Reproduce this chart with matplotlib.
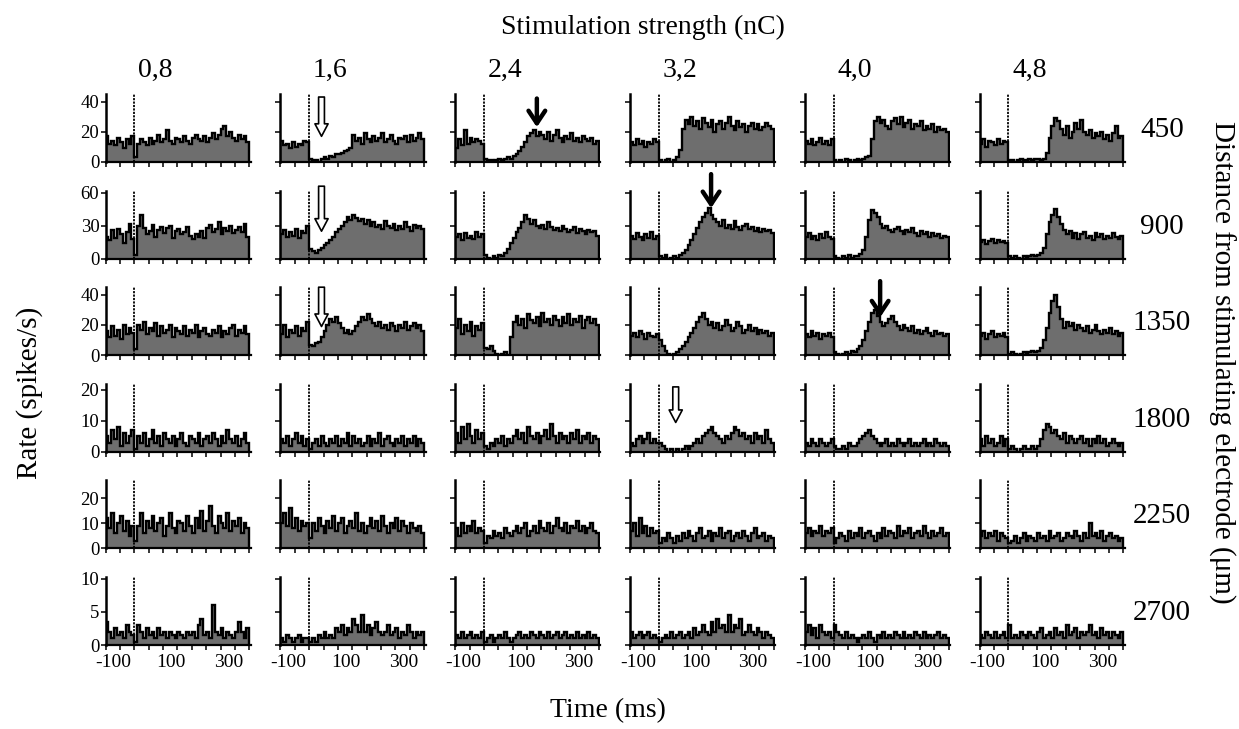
import numpy as np
import matplotlib
matplotlib.use('Agg')
import matplotlib.pyplot as plt
from matplotlib.transforms import ScaledTranslation

plt.rcParams['font.family'] = ['Liberation Serif', 'DejaVu Serif']

STRENGTHS = ['0,8', '1,6', '2,4', '3,2', '4,0', '4,8']
DISTANCES = ['450', '900', '1350', '1800', '2250', '2700']
Y_LIMITS = [45, 62, 45, 22, 27, 10.3]
Y_TICKS = [[0, 20, 40], [0, 30, 60], [0, 20, 40], [0, 10, 20], [0, 10, 20], [0, 5, 10]]
X_MAJOR = [-100, 100, 300]
X_MAJOR_LABELS = ['-100', '100', '300']
X_MINOR = list(range(-100, 401, 50))
T_START, T_END = -100, 400

# Firing-rate histograms (spikes/s), 10 ms bins from -100 to 400 ms, one list per stimulation strength
RATES_450 = [
    [17,12,14,11,16,13,9,15,12,17, 3,12,15,13,11,16,12,14,18,13, 15,21,14,12,16,15,13,17,14,12, 16,18,15,14,17,13,16,19,15,18, 22,24,17,20,16,14,18,15,17,13],
    [14,11,12,9,13,10,12,11,14,13, 2,1,1,0,2,3,2,4,3,5, 5,6,7,8,9,18,14,16,12,19, 15,13,17,14,16,19,13,15,18,14, 12,16,15,17,13,18,14,16,19,15],
    [9,15,11,21,12,16,13,15,14,12, 2,1,1,0,1,2,1,2,3,2, 4,5,7,10,13,17,19,21,17,20, 18,15,20,14,18,21,16,13,17,15, 19,14,16,13,17,15,14,16,12,14],
    [13,11,15,12,14,10,13,12,15,13, 1,0,1,2,0,1,3,8,22,28, 25,30,24,27,22,29,26,23,28,20, 25,27,22,26,30,24,21,27,23,25, 20,24,26,22,25,21,23,26,24,22],
    [14,12,15,11,13,16,12,14,11,15, 1,0,1,0,2,1,0,1,2,1, 2,3,4,15,27,30,26,28,24,22, 27,29,25,30,23,26,28,22,25,24, 27,21,24,22,25,20,23,21,22,20],
    [12,15,10,14,13,11,15,12,14,13, 1,1,0,1,2,1,1,2,1,2, 2,1,2,6,16,24,29,27,22,18, 24,16,20,26,22,28,20,18,21,16, 19,17,20,15,18,14,19,24,16,17],
]
RATES_900 = [
    [20,17,26,19,27,22,14,24,32,18, 3,30,40,28,22,25,31,20,26,29, 23,28,30,19,25,27,22,24,29,21, 18,22,20,25,19,28,31,24,27,33, 22,28,25,30,23,26,29,24,32,20],
    [22,26,20,24,21,27,19,25,23,30, 9,7,5,8,10,12,14,17,20,24, 27,30,33,38,35,40,37,34,36,32, 35,30,33,29,31,27,34,30,28,32, 26,30,27,33,29,25,31,28,30,27],
    [20,22,17,23,19,21,18,24,20,22, 3,1,0,2,1,3,2,5,9,14, 19,24,28,33,40,36,32,35,30,28, 31,27,33,29,26,28,25,30,27,24, 26,29,23,27,25,22,26,24,25,21],
    [21,18,23,20,17,22,19,24,18,21, 2,1,3,0,1,2,1,3,5,8, 12,17,22,28,33,38,42,46,40,36, 33,30,35,28,31,27,34,29,26,30, 32,27,29,25,28,24,27,25,26,23],
    [20,23,18,21,17,22,19,24,20,18, 2,1,0,2,1,3,1,2,2,4, 8,20,35,44,42,38,32,28,30,26, 24,27,29,25,22,26,24,28,23,21, 25,22,24,20,23,21,22,19,21,20],
    [15,17,13,16,18,14,17,15,16,14, 2,1,2,1,0,2,1,2,3,2, 3,5,10,22,33,40,45,38,32,26, 22,25,19,23,18,22,24,19,21,17, 23,20,22,18,21,19,23,20,18,21],
]
RATES_1350 = [
    [16,12,19,13,17,11,20,14,18,15, 4,20,17,22,14,18,16,21,13,19, 15,17,20,12,18,16,14,19,13,17, 15,20,12,16,18,14,13,17,15,19, 12,16,14,18,20,13,17,15,19,14],
    [14,20,12,17,15,19,13,18,16,22, 7,6,8,9,12,16,20,24,22,25, 21,18,15,17,14,16,19,22,25,23, 27,24,21,19,22,18,20,17,21,19, 16,20,18,22,17,19,21,18,20,16],
    [18,24,14,20,16,22,13,19,17,21, 5,4,6,3,1,0,1,2,0,12, 22,26,20,24,18,27,23,21,25,19, 28,22,24,20,26,23,19,25,21,27, 20,24,22,26,18,23,25,21,24,20],
    [13,15,12,16,14,11,15,13,12,14, 10,6,3,1,0,1,2,4,6,9, 12,15,18,22,25,28,24,20,22,18, 21,17,19,23,20,16,18,22,19,15, 17,20,16,18,14,17,15,16,13,15],
    [14,12,16,13,15,11,14,13,15,12, 2,1,0,1,2,1,3,2,4,6, 10,16,22,28,30,26,22,19,21,24, 26,22,19,17,20,18,16,19,15,17, 14,16,18,15,13,16,14,15,13,14],
    [13,15,11,14,16,12,14,13,15,12, 1,2,1,0,1,2,1,2,3,2, 3,5,10,18,28,36,40,32,24,18, 22,19,21,17,20,18,16,19,15,17, 20,16,14,17,15,18,14,16,13,15],
]
RATES_1800 = [
    [5,3,7,4,8,2,6,3,5,7, 1,5,3,6,2,4,7,3,5,2, 6,4,3,5,2,4,6,3,2,5, 4,3,6,2,4,5,3,6,4,2, 5,3,7,4,3,5,2,4,6,3],
    [4,3,5,2,4,6,3,5,2,4, 1,3,4,2,5,3,2,4,3,5, 2,4,3,6,2,5,3,4,2,3, 5,2,4,3,6,2,4,5,3,2, 4,3,5,2,4,3,5,2,4,3],
    [6,3,8,4,9,5,3,7,4,6, 2,1,3,2,4,3,5,2,4,3, 5,7,4,6,3,8,5,4,6,3, 5,7,4,9,5,3,6,4,5,3, 6,4,7,3,5,4,6,3,5,4],
    [3,2,4,5,3,4,6,3,4,3, 3,2,1,0,1,0,1,0,1,2, 1,2,3,4,3,5,6,7,8,6, 5,4,3,5,4,6,8,7,5,6, 4,5,3,6,4,5,3,7,4,3],
    [3,2,4,3,2,4,3,2,3,4, 2,1,1,2,1,3,2,2,3,4, 5,6,7,5,4,3,2,3,4,2, 3,2,4,3,2,3,4,2,3,2, 3,4,2,3,2,4,3,2,3,2],
    [4,2,5,3,4,2,3,5,2,4, 1,2,1,0,1,2,1,1,2,1, 2,4,7,9,8,6,7,5,4,6, 3,5,4,3,4,5,3,4,2,4, 3,5,3,4,2,3,4,3,2,3],
]
RATES_2250 = [
    [12,8,14,6,10,13,7,11,5,9, 3,9,14,6,11,8,13,7,10,12, 5,9,14,8,6,11,10,7,13,9, 6,12,8,15,7,11,17,9,6,13, 10,8,14,7,11,9,12,6,10,8],
    [10,14,9,16,8,12,7,11,9,10, 4,10,7,12,9,6,11,8,13,7, 10,12,6,9,11,8,14,7,10,6, 9,12,8,11,7,13,9,6,10,8, 12,7,11,9,6,10,8,7,9,6],
    [8,5,10,6,9,7,11,6,8,7, 2,5,4,7,5,6,4,8,6,5, 7,9,6,8,10,5,7,9,6,11, 8,7,10,6,9,12,8,7,10,6, 9,8,11,7,9,6,8,10,7,6],
    [7,10,5,12,6,9,5,8,6,7, 2,4,3,6,4,2,5,3,6,4, 7,5,3,6,8,4,5,7,3,6, 5,8,4,6,7,3,5,6,4,7, 5,3,6,8,4,5,6,3,5,4],
    [6,8,5,7,6,9,5,7,6,8, 2,4,6,5,3,7,4,6,5,8, 4,6,7,5,3,6,4,8,5,7, 6,4,9,5,7,6,8,4,6,7, 5,9,6,4,7,5,6,8,5,6],
    [5,7,4,6,5,7,3,6,5,4, 2,3,5,2,4,6,3,5,4,3, 6,4,5,3,7,4,5,6,3,4, 6,5,4,7,5,3,6,4,10,5, 6,4,7,3,5,6,4,5,3,4],
]
RATES_2700 = [
    [3.5,2,1,2.5,1.5,2,1,3,2,1.5, 0.5,3,2,1,2.5,1.5,2,1,2.5,1.5, 2,1,2,1.5,1,2,1.5,1,2,1.5, 2,1,3,4,1.5,2,1,6,2,1.5, 2.5,1,2,1.5,1,2,3.5,2,1,2.5],
    [1,0.5,1.5,1,0.5,1,1.5,0.5,1,1, 0.5,1,0.5,1.5,1,2,1,1.5,1,2.5, 2,3,1.5,2.5,2,4,3,2,4.5,2, 3,1.5,2.5,3.5,2,1.5,2,3,1.5,2, 2.5,1,2,1.5,3,2,1,2,1.5,2],
    [1.5,1,2,1,1.5,2,1,1.5,1,2, 0.5,1,1.5,0.5,1,1.5,1,2,1,0.5, 1,1.5,2,1,1.5,1,2,1.5,1,2, 1.5,1,2,1,1.5,2,1,1.5,2,1, 1.5,1,2,1,1.5,1,2,1,1.5,1],
    [2,1,1.5,2,1,1.5,2,1,1.5,1, 0.5,1,1.5,1,2,1,1.5,2,1,1.5, 2,1,2.5,1.5,2,3,2,1.5,3.5,2, 4,2.5,3,2,4.5,2,3,2.5,4,1.5, 2,3,2,1.5,2.5,2,1,2,1.5,1],
    [2,3,1.5,2.5,1,3,2,1.5,2,1, 3,2,1.5,1,2,1,1.5,1,0.5,1, 1.5,1,2,1,0.5,1.5,1,2,1,1.5, 1,2,1.5,1,2,1,1.5,1,2,1.5, 1,2,1,1.5,1,1.5,2,1,1.5,1],
    [1.5,1,2,1.5,1,2,1,1.5,2,1, 3,1,1.5,1,2,1.5,1,2,1.5,1, 2,2.5,1,1.5,2,1,2.5,1.5,2,1, 3,1.5,2,2.5,1,2,1.5,2,3,1.5, 2,1,2.5,1.5,2,1,2,1.5,1,2],
]
ROWS = [RATES_450, RATES_900, RATES_1350, RATES_1800, RATES_2250, RATES_2700]

# Arrows marking response onset / peak
ARROW_ROW = [0, 1, 2, 0, 1, 2, 3]
ARROW_COL = [1, 1, 1, 2, 3, 4, 3]
ARROW_T = [43, 43, 43, 184, 182, 162, 59]
ARROW_TIP = [17, 25, 19, 23, 46, 25, 9.5]
ARROW_TAIL = [43, 66, 45, 42, 77, 49, 21]
ARROW_FILLED = [False, False, False, True, True, True, False]

GRAY = '#6e6e6e'
W, H = 1239, 729
fig = plt.figure(figsize=(W / 100, H / 100), dpi=100)

col_left, col_step, ax_w = 105.6, 174.8, 145.2
row_base = [162, 258.6, 355.2, 451.8, 548.4, 645]
ax_h = 68

label_shift = ScaledTranslation(8 / 100, 0, fig.dpi_scale_trans)
axes = {}
for r in range(6):
    for c in range(6):
        l = col_left + c * col_step
        ax = fig.add_axes([l / W, 1 - row_base[r] / H, ax_w / W, ax_h / H])
        axes[(r, c)] = ax
        vals = np.asarray(ROWS[r][c], dtype=float)
        edges = np.linspace(T_START, T_END, len(vals) + 1)
        ax.stairs(vals, edges, fill=True, color=GRAY, lw=0)
        ax.stairs(vals, edges, color='black', lw=1.7)
        ax.axvline(0, color='black', lw=1.3, ls=(0, (1.2, 0.7)))
        ax.set_xlim(-100, 405)
        ax.set_ylim(0, Y_LIMITS[r])
        for s in ['top', 'right']:
            ax.spines[s].set_visible(False)
        ax.spines['left'].set_linewidth(1.8)
        ax.spines['bottom'].set_linewidth(1.6)
        ax.set_xticks(X_MAJOR)
        ax.set_xticks(X_MINOR, minor=True)
        ax.tick_params(axis='x', which='both', direction='out', length=3.5, width=1.1, pad=3)
        ax.tick_params(axis='y', which='both', direction='out', length=3.5, width=1.1, pad=1)
        ax.set_yticks(Y_TICKS[r])
        if r == 5:
            ax.set_xticklabels(X_MAJOR_LABELS, fontsize=14)
            for lab in ax.get_xticklabels():
                lab.set_transform(lab.get_transform() + label_shift)
        else:
            ax.set_xticklabels([])
        if c == 0:
            ax.set_yticklabels([str(v) for v in Y_TICKS[r]], fontsize=13.5)
        else:
            ax.set_yticklabels([])
        ax.set_facecolor('none')

for i in range(len(ARROW_T)):
    ax = axes[(ARROW_ROW[i], ARROW_COL[i])]
    if ARROW_FILLED[i]:
        props = dict(arrowstyle='->,head_length=0.45,head_width=0.3', mutation_scale=20,
                     color='black', lw=3.2, shrinkA=0, shrinkB=0)
    else:
        props = dict(arrowstyle='simple,head_length=0.9,head_width=0.95,tail_width=0.42',
                     mutation_scale=10, fc='white', ec='black', lw=1.2, shrinkA=0, shrinkB=0)
    ax.annotate('', xy=(ARROW_T[i], ARROW_TIP[i]), xytext=(ARROW_T[i], ARROW_TAIL[i]),
                arrowprops=props, annotation_clip=False)

for c in range(6):
    x = (col_left + c * col_step + 50) / W
    fig.text(x, 1 - 70 / H, STRENGTHS[c], fontsize=20, ha='center', va='center')
for r in range(6):
    fig.text(1162 / W, 1 - (row_base[r] - 32) / H, DISTANCES[r], fontsize=21,
             ha='center', va='center')

fig.text(643 / W, 1 - 27 / H, 'Stimulation strength (nC)', fontsize=20, ha='center', va='center')
fig.text(608 / W, 1 - 711 / H, 'Time (ms)', fontsize=20, ha='center', va='center')
fig.text(30 / W, 1 - 393 / H, 'Rate (spikes/s)', fontsize=21, rotation=90, ha='center', va='center')
fig.text(1222 / W, 1 - 362 / H, 'Distance from stimulating electrode (\u03bcm)', fontsize=21,
         rotation=270, ha='center', va='center')

fig.savefig('out.png', dpi=100)
